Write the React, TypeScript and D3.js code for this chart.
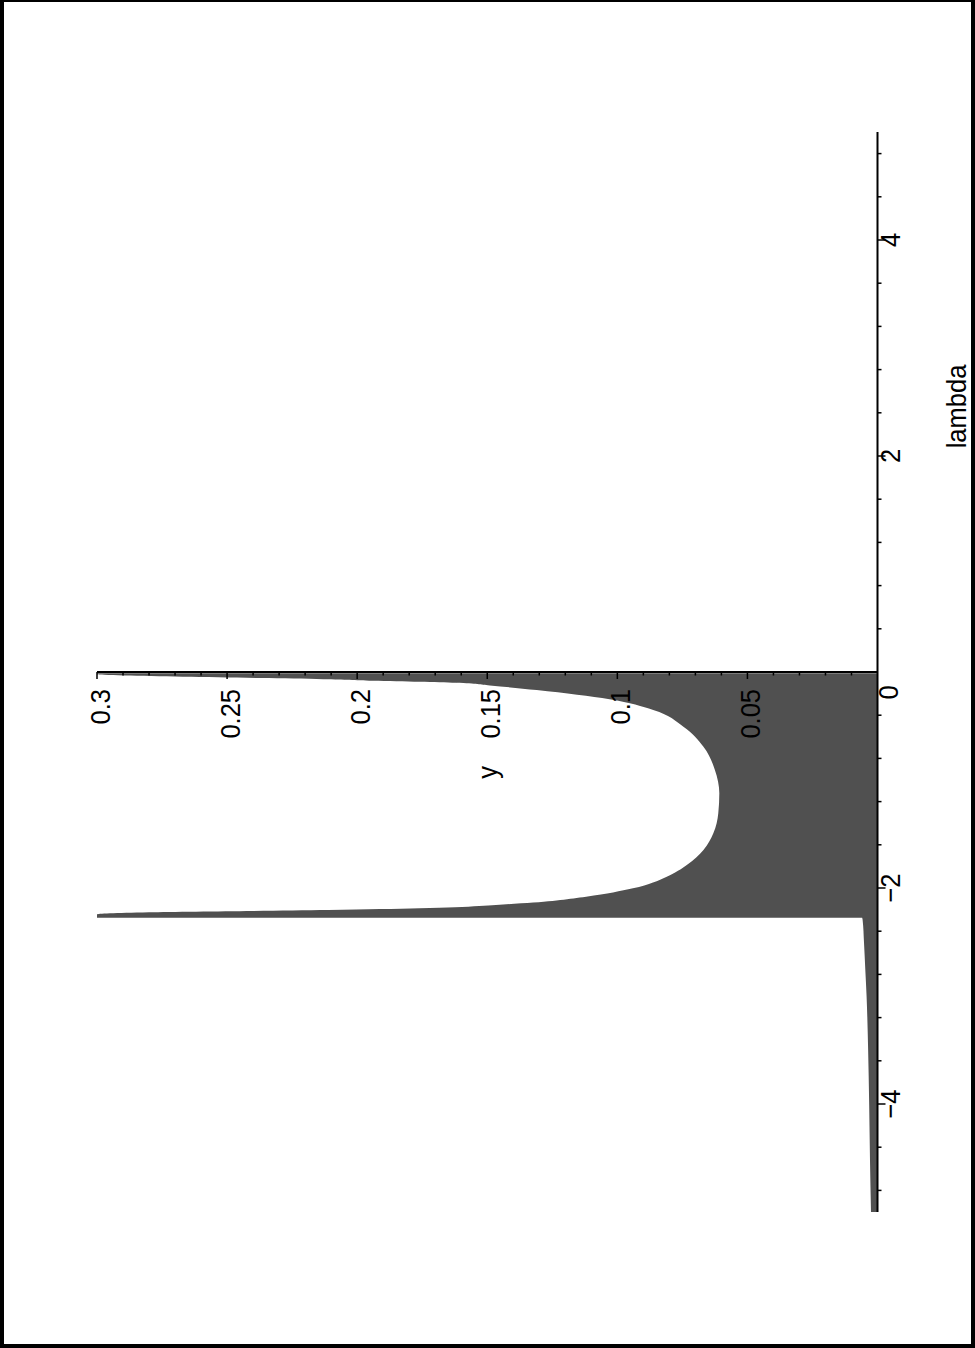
import React, { useRef, useEffect } from 'react';
import * as d3 from 'd3';

// y(lambda), lambda going from -5 up to 0
// (values above the 0.3 view limit are stored as 0.3)
const lambdaValues = [
  -5.0, -4.5, -4.0, -3.5, -3.0, -2.75, -2.5, -2.3, -2.276,
  -2.275, -2.245, -2.225, -2.213, -2.204, -2.188, -2.142, -2.08, -2.003,
  -1.895, -1.787, -1.648, -1.494, -1.308, -1.123, -0.907, -0.691, -0.506,
  -0.352, -0.253, -0.167, -0.125, -0.1, -0.09, -0.08, -0.066, -0.056,
  -0.044, -0.021, -0.012,
];
const yValues = [
  0.0025, 0.0029, 0.0032, 0.0036, 0.0042, 0.0047, 0.0052, 0.0057, 0.0059,
  0.3, 0.3, 0.28, 0.24, 0.211, 0.176, 0.137, 0.112, 0.094,
  0.081, 0.0733, 0.0669, 0.0631, 0.0612, 0.0608, 0.0625, 0.0669, 0.0746,
  0.0862, 0.103, 0.131, 0.149, 0.162, 0.176, 0.194, 0.213, 0.237,
  0.267, 0.3, 0.3,
];

const lambdaTickLabels = [-4, -2, 2, 4];
const yTickLabels = ['0.05', '0.1', '0.15', '0.2', '0.25', '0.3'];

const width = 975;
const height = 1348;
const fontFamily = '"Liberation Sans", Arial, Helvetica, sans-serif';
const fontSize = 25.5;

const App: React.FC = () => {
  const svgRef = useRef<SVGSVGElement>(null);

  useEffect(() => {
    const svg = d3.select(svgRef.current!);
    svg.selectAll('*').remove();

    // the plot is printed rotated: lambda runs up the page, y runs to the left
    const lambdaScale = d3.scaleLinear().domain([-5, 5]).range([1212, 132]);
    const yScale = d3.scaleLinear().domain([0, 0.3]).range([877.5, 97]);

    // page frame
    svg.append('rect')
      .attr('x', 2).attr('y', 0)
      .attr('width', 971).attr('height', 1346)
      .attr('fill', 'none')
      .attr('stroke', '#000')
      .attr('stroke-width', 4);

    const data = lambdaValues.map((l, i) => ({ l, v: yValues[i] }));
    const area = d3.area<{ l: number; v: number }>()
      .curve(d3.curveMonotoneY)
      .y(d => lambdaScale(d.l))
      .x0(yScale(0))
      .x1(d => yScale(Math.min(d.v, 0.3)));

    svg.append('path')
      .datum(data)
      .attr('d', area)
      .attr('fill', '#505050');

    const ax = yScale(0);
    const ay = lambdaScale(0);

    // y axis (horizontal on the page)
    svg.append('line')
      .attr('x1', yScale(0.3)).attr('x2', ax)
      .attr('y1', ay).attr('y2', ay)
      .attr('stroke', '#000').attr('stroke-width', 2);

    d3.range(1, 31).forEach(i => {
      const x = yScale(i / 100);
      const len = i % 5 === 0 ? 7 : 3.5;
      svg.append('line')
        .attr('x1', x).attr('x2', x)
        .attr('y1', ay).attr('y2', ay + len)
        .attr('stroke', '#000').attr('stroke-width', 1.5);
    });

    // lambda axis (vertical on the page)
    svg.append('line')
      .attr('x1', ax).attr('x2', ax)
      .attr('y1', lambdaScale(-5)).attr('y2', lambdaScale(5))
      .attr('stroke', '#000').attr('stroke-width', 2);

    d3.range(-12, 13).forEach(i => {
      if (i === 0) return;
      const y = lambdaScale(i * 0.4);
      const len = i % 5 === 0 ? 8 : 4;
      svg.append('line')
        .attr('x1', ax).attr('x2', ax + len)
        .attr('y1', y).attr('y2', y)
        .attr('stroke', '#000').attr('stroke-width', 1.5);
    });

    const addText = (txt: string, x: number, y: number, anchor: string) => {
      svg.append('text')
        .attr('transform', `translate(${x},${y}) rotate(-90) scale(1,1.12)`)
        .attr('text-anchor', anchor)
        .attr('font-family', fontFamily)
        .attr('font-size', fontSize)
        .attr('fill', '#000')
        .text(txt);
    };

    yTickLabels.forEach(t => addText(t, yScale(+t) + 12.5, 689, 'end'));
    lambdaTickLabels.forEach(l =>
      addText(l < 0 ? `\u2212${-l}` : `${l}`, 900, lambdaScale(l), 'middle'));
    addText('0', 898, 692.5, 'middle');
    addText('y', 496.5, 772.5, 'middle');
    addText('lambda', 966, 406.5, 'middle');
  }, []);

  return (
    <svg
      ref={svgRef}
      width={width}
      height={height}
      style={{ position: 'absolute', left: 0, top: 0, background: '#fff' }}
    />
  );
};

export default App;
